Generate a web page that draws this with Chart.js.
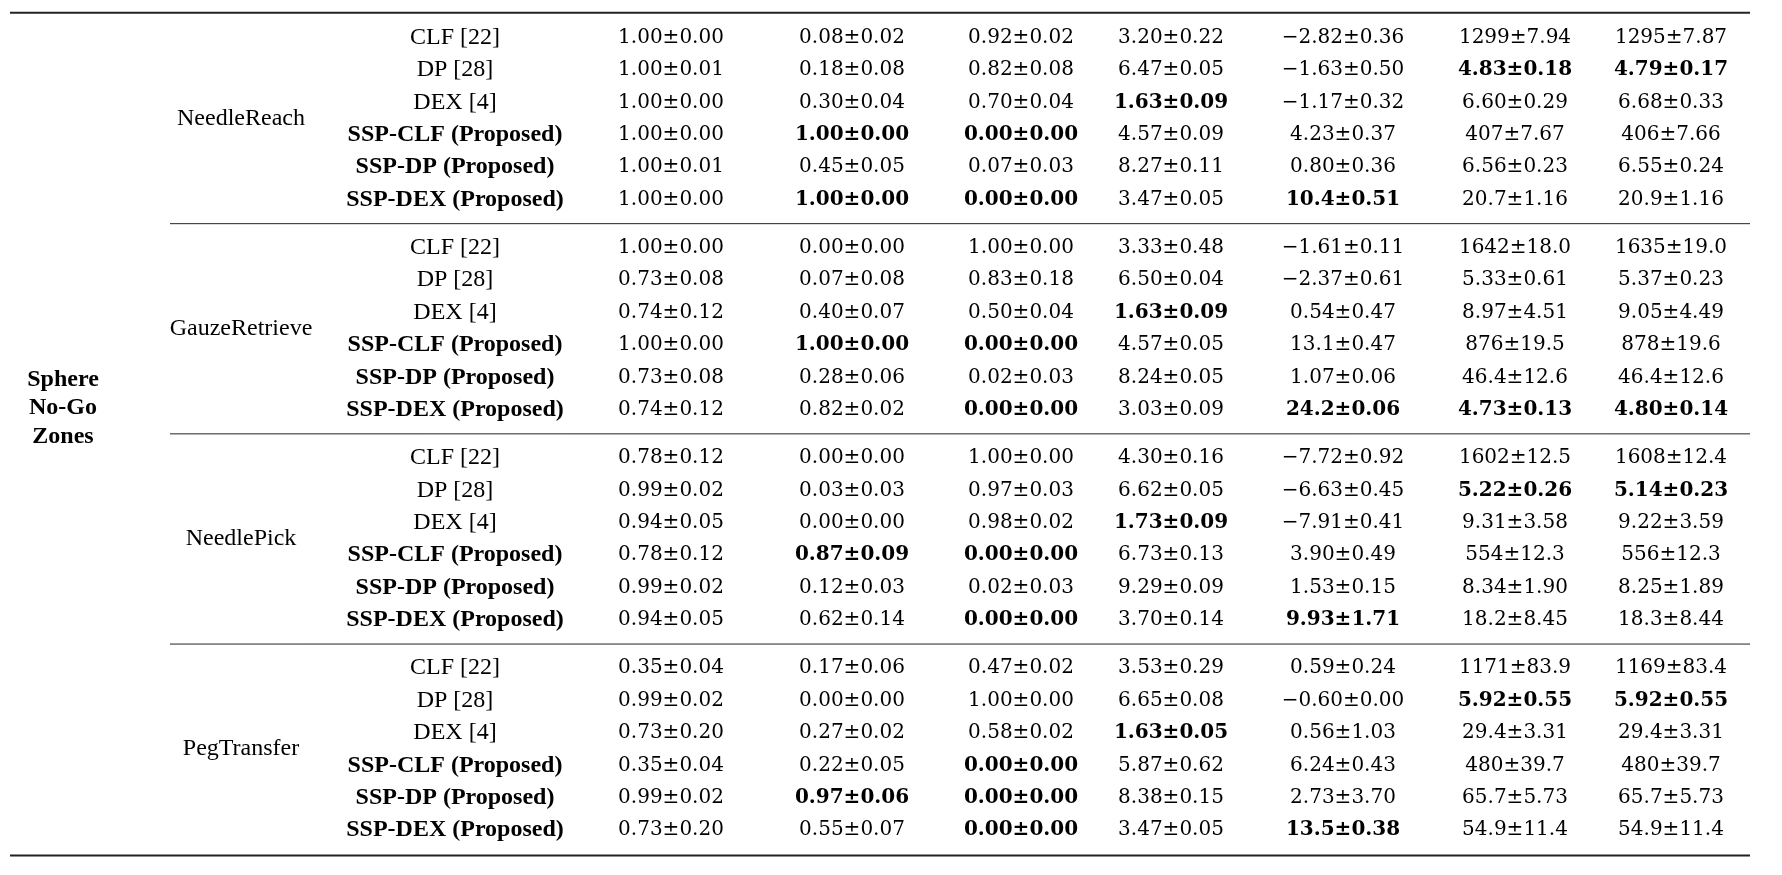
<!DOCTYPE html>
<html>
<head>
<meta charset="utf-8">
<script src="https://cdn.jsdelivr.net/npm/chart.js@4"></script>
<style>
  html, body { margin: 0; padding: 0; background: #fff; }
  #wrap { width: 1782px; height: 875px; }
</style>
</head>
<body>
<div id="wrap"><canvas id="tbl"></canvas></div>
<script>
const zoneLabel = ['Sphere', 'No-Go', 'Zones'];
const tasks = ['NeedleReach', 'GauzeRetrieve', 'NeedlePick', 'PegTransfer'];
const methods = ['CLF [22]', 'DP [28]', 'DEX [4]', 'SSP-CLF (Proposed)', 'SSP-DP (Proposed)', 'SSP-DEX (Proposed)'];
const boldMethods = [3, 4, 5];

const cells = [
  ['1.00±0.00', '0.08±0.02', '0.92±0.02', '3.20±0.22', '−2.82±0.36', '1299±7.94', '1295±7.87'],
  ['1.00±0.01', '0.18±0.08', '0.82±0.08', '6.47±0.05', '−1.63±0.50', '4.83±0.18', '4.79±0.17'],
  ['1.00±0.00', '0.30±0.04', '0.70±0.04', '1.63±0.09', '−1.17±0.32', '6.60±0.29', '6.68±0.33'],
  ['1.00±0.00', '1.00±0.00', '0.00±0.00', '4.57±0.09', '4.23±0.37', '407±7.67', '406±7.66'],
  ['1.00±0.01', '0.45±0.05', '0.07±0.03', '8.27±0.11', '0.80±0.36', '6.56±0.23', '6.55±0.24'],
  ['1.00±0.00', '1.00±0.00', '0.00±0.00', '3.47±0.05', '10.4±0.51', '20.7±1.16', '20.9±1.16'],
  ['1.00±0.00', '0.00±0.00', '1.00±0.00', '3.33±0.48', '−1.61±0.11', '1642±18.0', '1635±19.0'],
  ['0.73±0.08', '0.07±0.08', '0.83±0.18', '6.50±0.04', '−2.37±0.61', '5.33±0.61', '5.37±0.23'],
  ['0.74±0.12', '0.40±0.07', '0.50±0.04', '1.63±0.09', '0.54±0.47', '8.97±4.51', '9.05±4.49'],
  ['1.00±0.00', '1.00±0.00', '0.00±0.00', '4.57±0.05', '13.1±0.47', '876±19.5', '878±19.6'],
  ['0.73±0.08', '0.28±0.06', '0.02±0.03', '8.24±0.05', '1.07±0.06', '46.4±12.6', '46.4±12.6'],
  ['0.74±0.12', '0.82±0.02', '0.00±0.00', '3.03±0.09', '24.2±0.06', '4.73±0.13', '4.80±0.14'],
  ['0.78±0.12', '0.00±0.00', '1.00±0.00', '4.30±0.16', '−7.72±0.92', '1602±12.5', '1608±12.4'],
  ['0.99±0.02', '0.03±0.03', '0.97±0.03', '6.62±0.05', '−6.63±0.45', '5.22±0.26', '5.14±0.23'],
  ['0.94±0.05', '0.00±0.00', '0.98±0.02', '1.73±0.09', '−7.91±0.41', '9.31±3.58', '9.22±3.59'],
  ['0.78±0.12', '0.87±0.09', '0.00±0.00', '6.73±0.13', '3.90±0.49', '554±12.3', '556±12.3'],
  ['0.99±0.02', '0.12±0.03', '0.02±0.03', '9.29±0.09', '1.53±0.15', '8.34±1.90', '8.25±1.89'],
  ['0.94±0.05', '0.62±0.14', '0.00±0.00', '3.70±0.14', '9.93±1.71', '18.2±8.45', '18.3±8.44'],
  ['0.35±0.04', '0.17±0.06', '0.47±0.02', '3.53±0.29', '0.59±0.24', '1171±83.9', '1169±83.4'],
  ['0.99±0.02', '0.00±0.00', '1.00±0.00', '6.65±0.08', '−0.60±0.00', '5.92±0.55', '5.92±0.55'],
  ['0.73±0.20', '0.27±0.02', '0.58±0.02', '1.63±0.05', '0.56±1.03', '29.4±3.31', '29.4±3.31'],
  ['0.35±0.04', '0.22±0.05', '0.00±0.00', '5.87±0.62', '6.24±0.43', '480±39.7', '480±39.7'],
  ['0.99±0.02', '0.97±0.06', '0.00±0.00', '8.38±0.15', '2.73±3.70', '65.7±5.73', '65.7±5.73'],
  ['0.73±0.20', '0.55±0.07', '0.00±0.00', '3.47±0.05', '13.5±0.38', '54.9±11.4', '54.9±11.4']
];

// [row, col] of cells set in bold
const boldCells = [
  [1, 5], [1, 6], [2, 3], [3, 1], [3, 2], [5, 1], [5, 2], [5, 4],
  [8, 3], [9, 1], [9, 2], [11, 2], [11, 4], [11, 5], [11, 6],
  [13, 5], [13, 6], [14, 3], [15, 1], [15, 2], [17, 2], [17, 4],
  [19, 5], [19, 6], [20, 3], [21, 2], [22, 1], [22, 2], [23, 2], [23, 4]
];

// column centres (x) in page units
const colX = [63, 241, 455, 671, 852, 1021, 1171, 1343, 1515, 1671];
const groupGap = 0.48;
const rowY = i => i + Math.floor(i / 6) * groupGap;
const isBold = (r, c) => boldCells.some(b => b[0] === r && b[1] === c);

const points = [];
cells.forEach((row, r) => {
  points.push({ x: colX[2], y: rowY(r), text: methods[r % 6], bold: boldMethods.includes(r % 6), num: false });
  row.forEach((t, c) => points.push({ x: colX[3 + c], y: rowY(r), text: t, bold: isBold(r, c), num: true }));
});
tasks.forEach((t, g) => points.push({ x: colX[1], y: rowY(g * 6) + 2.5, text: t, bold: false, num: false }));
zoneLabel.forEach((t, i) => points.push({ x: colX[0], y: 10.55 + i * 0.88, text: t, bold: true, num: false }));

const tablePlugin = {
  id: 'tableText',
  afterDatasetsDraw(chart) {
    const { ctx, scales: { x, y } } = chart;
    ctx.save();
    ctx.strokeStyle = '#222';
    const hline = (v, x0, x1, w) => {
      ctx.lineWidth = w;
      ctx.beginPath();
      ctx.moveTo(x.getPixelForValue(x0), y.getPixelForValue(v));
      ctx.lineTo(x.getPixelForValue(x1), y.getPixelForValue(v));
      ctx.stroke();
    };
    hline(-0.76, 10, 1750, 2);
    hline(rowY(23) + 0.78, 10, 1750, 2);
    for (let g = 1; g < 4; g++) hline(rowY(g * 6) - (1 + groupGap) / 2, 170, 1750, 1);
    ctx.fillStyle = '#000';
    ctx.textAlign = 'center';
    ctx.textBaseline = 'middle';
    chart.data.datasets[0].data.forEach(p => {
      ctx.font = (p.bold ? 'bold ' : '') + (p.num ? '20px "DejaVu Serif", serif' : '24px "Liberation Serif", serif');
      ctx.fillText(p.text, x.getPixelForValue(p.x), y.getPixelForValue(p.y));
    });
    ctx.restore();
  }
};

new Chart(document.getElementById('tbl'), {
  type: 'scatter',
  data: { datasets: [{ data: points, pointRadius: 0 }] },
  options: {
    responsive: true,
    maintainAspectRatio: false,
    animation: false,
    layout: { padding: 0 },
    plugins: { legend: { display: false }, tooltip: { enabled: false } },
    scales: {
      x: { type: 'linear', min: 0, max: 1782, display: false },
      y: { type: 'linear', min: -1.156, max: 25.82, reverse: true, display: false }
    }
  },
  plugins: [tablePlugin]
});
</script>
</body>
</html>
